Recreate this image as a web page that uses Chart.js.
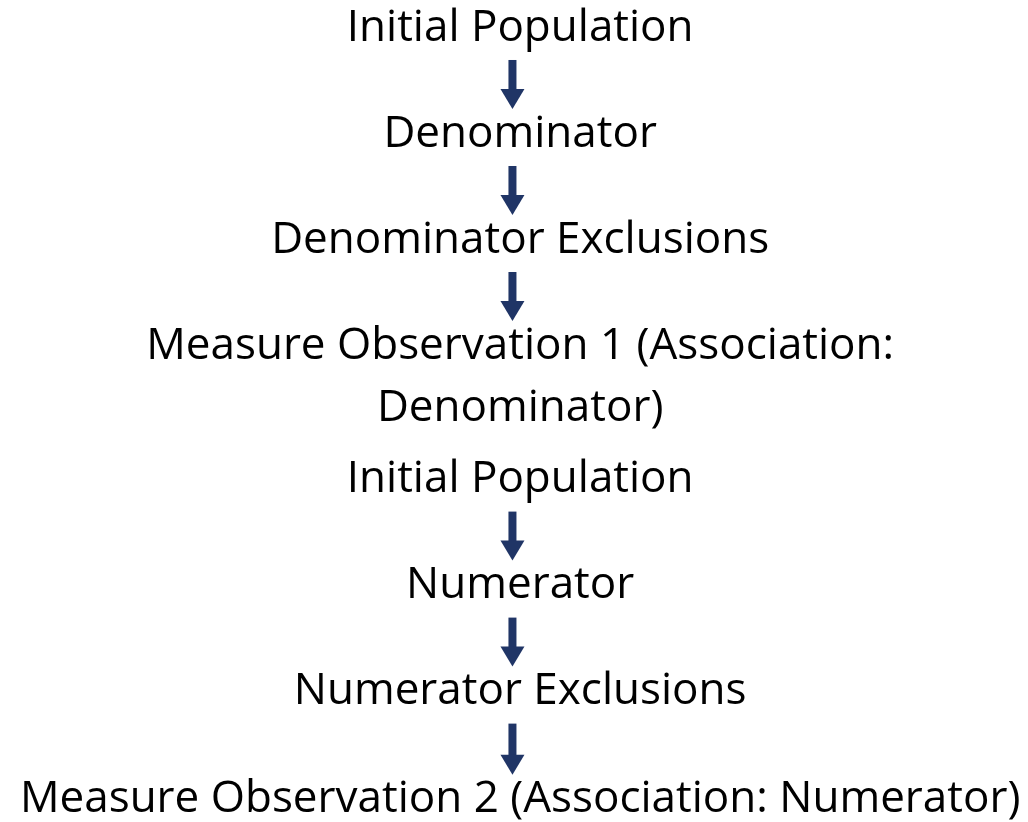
<!DOCTYPE html>
<html>
<head>
<meta charset="utf-8">
<script src="https://cdn.jsdelivr.net/npm/chart.js@4.4.1/dist/chart.umd.min.js"></script>
<style>
    html, body { margin: 0; padding: 0; background: #ffffff; }
    #wrap { width: 1028px; height: 822px; }
</style>
</head>
<body>
<div id="wrap"><canvas id="flow"></canvas></div>
<script>
// Etapes du flux (texte de chaque boite)
const stepLabels = [
    "Initial Population",
    "Denominator",
    "Denominator Exclusions",
    ["Measure Observation 1 (Association:", "Denominator)"],
    "Initial Population",
    "Numerator",
    "Numerator Exclusions",
    "Measure Observation 2 (Association: Numerator)"
];
// Position de chaque etape dans le flux (en rangs)
const stepRows = [0, 1, 2, 3, 4.26, 5.26, 6.26, 7.28];
// Groupe de chaque etape : une fleche relie deux etapes du meme groupe
const stepGroups = [0, 0, 0, 0, 1, 1, 1, 1];

const arrowColor = "#203566";
const fontSpec = "44px 'Open Sans'";
// largeur maxi des lignes condensees
const maxLineWidth = {
    "Measure Observation 2 (Association: Numerator)": 1002
};

const flowPlugin = {
    id: "flowPlugin",
    afterDatasetsDraw (chart) {
        const ctx = chart.ctx;
        const xs = chart.scales.x;
        const ys = chart.scales.y;
        const lineGap = 62;

        ctx.save();
        // fleches
        for (let i = 0; i < stepRows.length - 1; i++) {
            if (stepGroups[i] !== stepGroups[i + 1]) continue;
            const cx = xs.getPixelForValue(-0.003);
            const top = ys.getPixelForValue(stepRows[i]) + 32;
            const bottom = ys.getPixelForValue(stepRows[i + 1]) - 25;
            const headH = 20;
            ctx.fillStyle = arrowColor;
            ctx.fillRect(cx - 4, top, 8, bottom - top - headH + 1);
            ctx.beginPath();
            ctx.moveTo(cx - 12, bottom - headH);
            ctx.lineTo(cx + 12, bottom - headH);
            ctx.lineTo(cx, bottom);
            ctx.closePath();
            ctx.fill();
        }

        // textes
        ctx.fillStyle = "#000000";
        ctx.font = fontSpec;
        ctx.textAlign = "center";
        ctx.textBaseline = "middle";
        for (let i = 0; i < stepLabels.length; i++) {
            const lines = Array.isArray(stepLabels[i]) ? stepLabels[i] : [stepLabels[i]];
            const cx = xs.getPixelForValue(0.012);
            const cy = ys.getPixelForValue(stepRows[i]);
            lines.forEach((line, k) => {
                const w = maxLineWidth[line];
                if (w) {
                    ctx.fillText(line, cx, cy + k * lineGap, w);
                } else {
                    ctx.fillText(line, cx, cy + k * lineGap);
                }
            });
        }
        ctx.restore();
    }
};

const data = {
    datasets: [{
        label: "Etapes",
        data: stepRows.map(r => ({ x: 0, y: r })),
        pointRadius: 0,
        showLine: false
    }]
};

const config = {
    type: "scatter",
    data: data,
    options: {
        responsive: true,
        maintainAspectRatio: false,
        animation: false,
        layout: { padding: 0 },
        plugins: {
            legend: { display: false },
            tooltip: { enabled: false }
        },
        scales: {
            x: { display: false, min: -1, max: 1 },
            y: { display: false, reverse: true, min: -0.264, max: 7.49 }
        }
    },
    plugins: [flowPlugin]
};

new Chart(document.getElementById("flow"), config);
</script>
</body>
</html>
